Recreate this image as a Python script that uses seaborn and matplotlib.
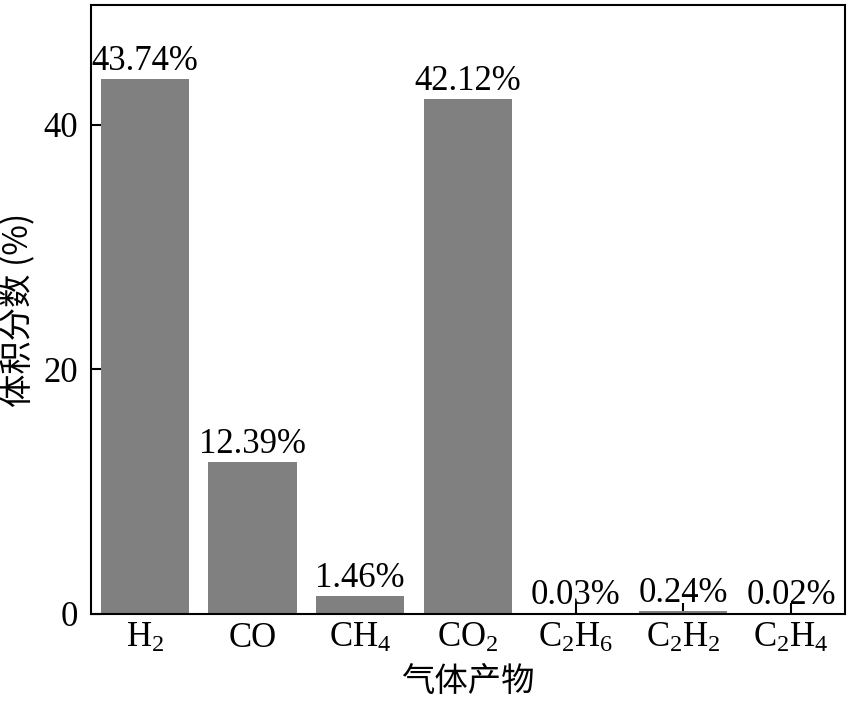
import matplotlib
matplotlib.use('Agg')
import matplotlib.pyplot as plt
import seaborn as sns
import pandas as pd

# data
gases = ['H$_2$', 'CO', 'CH$_4$', 'CO$_2$', 'C$_2$H$_6$', 'C$_2$H$_2$', 'C$_2$H$_4$']
fractions = [43.74, 12.39, 1.46, 42.12, 0.03, 0.24, 0.02]
yticks = [0, 20, 40]

sns.set_style('ticks')
plt.rcParams['font.family'] = ['Liberation Serif', 'Noto Sans CJK SC']
plt.rcParams['mathtext.fontset'] = 'custom'
plt.rcParams['mathtext.rm'] = 'Liberation Serif'
plt.rcParams['mathtext.it'] = 'Liberation Serif'
plt.rcParams['text.color'] = 'black'

df = pd.DataFrame({'gas': gases, 'frac': fractions})

fig = plt.figure(figsize=(8.5, 7.04), dpi=100)
ax = fig.add_axes([0.107, 0.128, 0.887, 0.865])
sns.barplot(data=df, x='gas', y='frac', color='#808080', saturation=1,
            width=0.82, linewidth=0, ax=ax)

# value labels on top of bars
for i, v in enumerate(fractions):
    ax.text(i, v + 0.1, f'{v:.2f}%', ha='center', va='bottom', fontsize=25,
            color='black', family='Liberation Serif')

ax.set_xlim(-0.5, 6.5)
ax.set_ylim(0, 49.8)
ax.set_yticks(yticks)
ax.tick_params(direction='in', length=8, width=1.5, labelsize=25, colors='black')
ax.tick_params(axis='x', pad=6)
ax.tick_params(axis='y', pad=9)
for s in ax.spines.values():
    s.set_linewidth(1.5)
    s.set_color('black')

ax.set_xlabel('气体产物', fontsize=24, family='Noto Sans CJK SC', labelpad=6, color='black')
ax.set_ylabel('体积分数 (%)', fontsize=24, family=['Noto Sans CJK SC', 'Liberation Serif'],
              labelpad=6, color='black')

fig.savefig('out.png', dpi=100)
